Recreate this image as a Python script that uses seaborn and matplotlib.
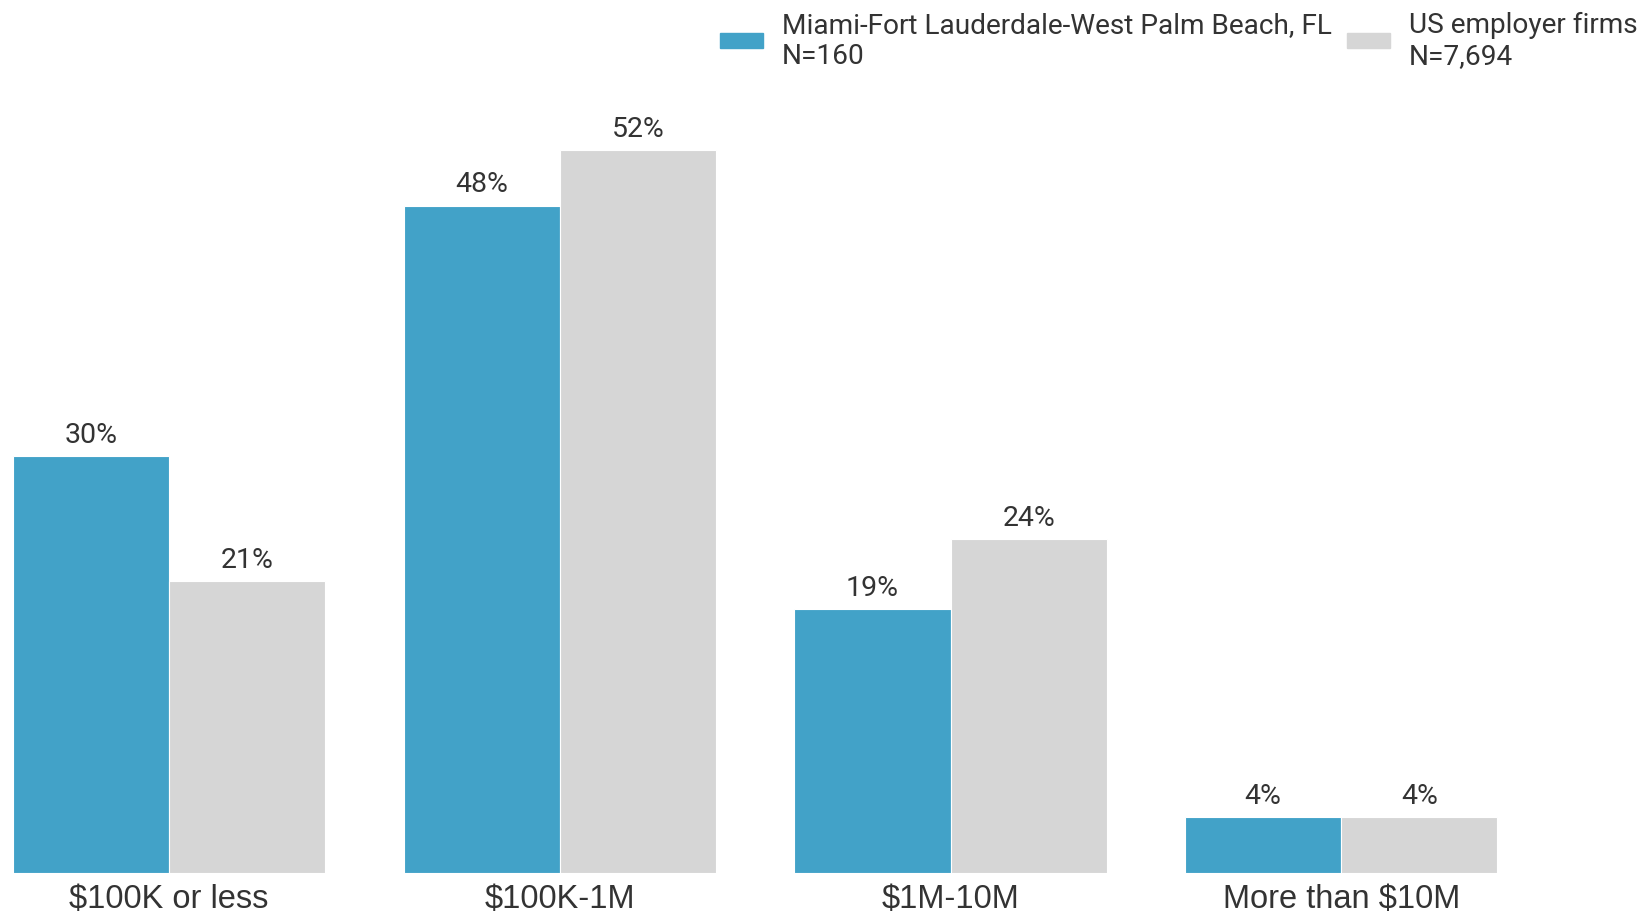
import pandas as pd
import matplotlib.pyplot as plt
import seaborn as sns

# data
categories = ['$100K or less', '$100K-1M', '$1M-10M', 'More than $10M']
miami = [30, 48, 19, 4]
us_firms = [21, 52, 24, 4]
series_names = ['Miami-Fort Lauderdale-West Palm Beach, FL\nN=160',
                'US employer firms\nN=7,694']

df = pd.DataFrame({
    'category': categories * 2,
    'value': miami + us_firms,
    'series': [series_names[0]] * len(categories) + [series_names[1]] * len(categories),
})

sns.set_style('white')
plt.rcParams['font.family'] = ['Roboto', 'DejaVu Sans']

fig = plt.figure(figsize=(16.42, 9.12), dpi=100)
ax = fig.add_axes([0, 0.0417, 1, 0.9145])

sns.barplot(data=df, x='category', y='value', hue='series',
            palette=['#42A2C8', '#D6D6D6'], saturation=1, width=0.8,
            edgecolor='white', linewidth=0.8, legend=False, ax=ax)

for cont in ax.containers:
    ax.bar_label(cont, labels=[f'{v:.0f}%' for v in cont.datavalues],
                 padding=6, fontsize=20.5, color='#333333')

ax.set_xlim(-0.433, 3.77)
ax.set_ylim(0, 60)
ax.set_xlabel('')
ax.set_ylabel('')
ax.set_yticks([])
ax.tick_params(axis='x', length=0, pad=7, labelsize=23.5, labelcolor='#333333')
for lab in ax.get_xticklabels():
    lab.set_fontfamily(['Liberation Sans', 'DejaVu Sans'])
sns.despine(ax=ax, left=True, bottom=True, top=True, right=True)

handles = [plt.Rectangle((0, 0), 1, 1, color=c) for c in ['#42A2C8', '#D6D6D6']]
leg = fig.legend(handles, series_names, loc='upper right', ncol=2,
                 bbox_to_anchor=(1.0125, 1.015), frameon=False, fontsize=20.2,
                 handlelength=1.55, handleheight=0.45, handletextpad=0.65,
                 columnspacing=0.55, labelspacing=0.2, labelcolor='#333333')

fig.savefig('out.png', dpi=100)
